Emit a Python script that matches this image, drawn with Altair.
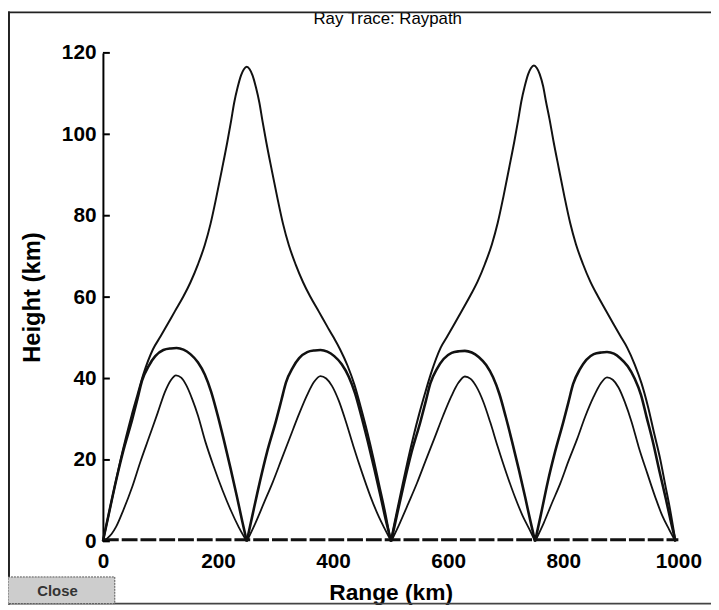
import altair as alt
import pandas as pd

# ---------------- data ----------------
# High-angle ray (peaks ~116.6 km)
high_h1_x = [0, 10, 20, 30, 40, 50, 60, 70, 87, 100, 111, 125, 140, 152, 165, 177, 187, 197, 207, 216,
             223, 228, 234, 240, 245, 250, 255, 260, 266, 272, 277, 284, 293, 303, 313, 323, 335, 348, 360, 375,
             389, 400, 412, 425, 437, 448, 460, 470, 480, 490, 500]
high_h1_y = [0, 6.6, 13.2, 19.6, 25.5, 31, 36, 40.9, 47.2, 50.3, 53, 56.5, 60.2, 63.6, 68, 72.8, 78, 84.5, 91.5, 98,
             103.5, 107.7, 111.5, 114.5, 116, 116.6, 116, 114.5, 111.5, 107.7, 103.5, 98, 91.5, 84.5, 78, 72.8, 68, 63.6, 60.2, 56.5,
             53, 50.3, 47.2, 43.2, 38.5, 33, 26.5, 20.5, 14, 7.5, 0]
high_h2_x = [500, 510, 520, 530, 540, 550, 560, 570, 587, 599, 610, 624, 639, 651, 664, 676, 686, 696, 706, 715,
             722, 727, 733, 739, 744, 749, 754, 759, 765, 770, 776, 783, 792, 802, 812, 822, 834, 847, 859, 874,
             888, 899, 911, 924, 936, 947, 958, 968, 977, 986, 995]
high_h2_y = [0, 6.8, 13.5, 20, 26, 31.5, 36.5, 41.2, 47.6, 50.5, 53.2, 56.7, 60.5, 63.8, 68.2, 73, 78.2, 84.7, 91.8, 98.3,
             103.8, 108, 111.8, 114.8, 116.3, 116.9, 116.3, 114.8, 111.8, 108, 103.8, 98.3, 91.8, 84.7, 78.2, 73, 68.2, 63.8, 60.5, 56.7,
             53.2, 50.5, 47.6, 43.5, 38.8, 33.2, 26.5, 20.5, 14, 7.5, 0]

# Ray with ~47 km apex
mid_h1_x = [0, 10, 23, 35, 51, 60, 68, 80, 91, 105, 118, 128, 140, 152, 165, 177, 188, 199, 210, 222, 233, 242, 250]
mid_h1_y = [0, 6.6, 15, 22, 30, 35, 39.5, 43.2, 45.5, 47, 47.4, 47.5, 47.1, 46, 44, 41, 36.8, 31.2, 25, 17.8, 10.9, 5, 0]
mid_h2_x = [250, 260, 273, 285, 301, 310, 318, 330, 341, 355, 368, 378, 390, 402, 415, 427, 438, 449, 460, 472, 483, 492, 501]
mid_h2_y = [0, 6.5, 14.8, 21.8, 29.7, 34.6, 39, 42.7, 45, 46.5, 46.9, 47, 46.6, 45.5, 43.5, 40.5, 36.4, 30.8, 24.7, 17.6, 10.8, 5, 0]
mid_h3_x = [501, 511, 524, 536, 552, 561, 569, 581, 592, 606, 619, 629, 641, 653, 666, 678, 689, 700, 711, 723, 734, 743, 751]
mid_h3_y = [0, 6.5, 14.7, 21.7, 29.5, 34.4, 38.8, 42.5, 44.8, 46.3, 46.7, 46.8, 46.4, 45.3, 43.3, 40.3, 36.2, 30.6, 24.5, 17.5, 10.7, 4.9, 0]
mid_h4_x = [751, 761, 773, 785, 800, 809, 817, 829, 840, 853, 866, 876, 888, 899, 912, 924, 935, 945, 956, 967, 978, 987, 995]
mid_h4_y = [0, 6.5, 14.6, 21.6, 29.3, 34.2, 38.6, 42.3, 44.6, 46, 46.4, 46.5, 46.1, 45, 43, 40, 36, 30.4, 24.3, 17.3, 10.6, 4.8, 0]

# Ray with ~41 km apex
low_h1_x = [0, 8, 15, 23, 35, 51, 65, 80, 95, 108, 118, 127, 136, 145, 155, 165, 178, 193, 208, 222, 236, 250]
low_h1_y = [0, 0.8, 1.8, 3.6, 7.5, 13.4, 19.5, 25.5, 31.5, 36.8, 39.6, 40.8, 40.2, 38.3, 35, 31, 24.5, 18.2, 12.5, 7.7, 3.5, 0]
low_h2_x = [250, 265, 280, 295, 310, 325, 340, 355, 367, 378, 388, 398, 410, 422, 435, 450, 465, 478, 490, 501]
low_h2_y = [0, 4.5, 9.5, 14.5, 20, 25.5, 31, 36, 39.2, 40.6, 40, 38.2, 34.5, 29.5, 23.5, 17, 11, 6.5, 3, 0]
low_h3_x = [501, 516, 531, 546, 561, 576, 591, 606, 618, 629, 639, 649, 661, 673, 686, 701, 716, 729, 741, 751]
low_h3_y = [0, 4.5, 9.4, 14.4, 19.9, 25.3, 30.8, 35.8, 39, 40.5, 39.9, 38, 34.3, 29.3, 23.3, 16.8, 10.9, 6.4, 3, 0]
low_h4_x = [751, 766, 780, 795, 809, 824, 838, 853, 865, 876, 886, 896, 907, 919, 931, 946, 960, 972, 984, 995]
low_h4_y = [0, 4.5, 9.3, 14.3, 19.7, 25.1, 30.6, 35.6, 38.8, 40.3, 39.7, 37.8, 34.2, 29.2, 23.2, 16.7, 10.8, 6.3, 2.9, 0]

# Ground-hugging ray
ground_x = [0, 1000]
ground_y = [0.4, 0.4]

x_ticks = [0, 200, 400, 600, 800, 1000]
y_ticks = [0, 20, 40, 60, 80, 100, 120]

title_text = "Ray Trace: Raypath"
button_text = "Close"

# ---------------- table ----------------
rows = []
def add(ray, hop, xs, ys):
    for i, (a, b) in enumerate(zip(xs, ys)):
        rows.append({"ray": ray, "hop": hop, "i": i, "range": a, "height": b})

add("high", 1, high_h1_x, high_h1_y)
add("high", 2, high_h2_x, high_h2_y)
add("mid", 1, mid_h1_x, mid_h1_y)
add("mid", 2, mid_h2_x, mid_h2_y)
add("mid", 3, mid_h3_x, mid_h3_y)
add("mid", 4, mid_h4_x, mid_h4_y)
add("low", 1, low_h1_x, low_h1_y)
add("low", 2, low_h2_x, low_h2_y)
add("low", 3, low_h3_x, low_h3_y)
add("low", 4, low_h4_x, low_h4_y)
add("ground", 1, ground_x, ground_y)
df = pd.DataFrame(rows)

FONT = "Liberation Sans"

xs = alt.Scale(domain=[0, 1000], nice=False, zero=False)
ys = alt.Scale(domain=[0, 120], nice=False, zero=False)

X = alt.X("range:Q", scale=xs, title="Range (km)",
          axis=alt.Axis(values=x_ticks, format="d", domain=False, ticks=False, grid=False,
                        labelFlush=False, labelFont=FONT, labelFontSize=21, labelFontWeight="bold",
                        labelColor="black", labelPadding=9,
                        titleFont=FONT, titleFontSize=23, titleFontWeight="bold", titleColor="black",
                        titlePadding=11))
Y = alt.Y("height:Q", scale=ys, title="Height (km)",
          axis=alt.Axis(values=y_ticks, domain=True, domainColor="black", domainWidth=2,
                        ticks=False, grid=False, labelFont=FONT, labelFontSize=21,
                        labelFontWeight="bold", labelColor="black", labelPadding=7,
                        titleFont=FONT, titleFontSize=24, titleFontWeight="bold", titleColor="black",
                        titlePadding=17))

base = alt.Chart(df)

def ray_layer(name, width, dash=None):
    kw = dict(color="#111111", strokeWidth=width, interpolate="monotone")
    if dash:
        kw["strokeDash"] = dash
    return base.transform_filter(alt.datum.ray == name).mark_line(**kw).encode(
        x=X, y=Y, detail="hop:N", order="i:Q")

ground = ray_layer("ground", 3, [16, 3])
low = ray_layer("low", 1.8)
mid = ray_layer("mid", 2.6)
high = ray_layer("high", 2.0)

ticks = alt.Chart(pd.DataFrame({"v": y_ticks})).mark_rule(color="black", strokeWidth=2).encode(
    y=alt.Y("v:Q", scale=ys), x=alt.value(0), x2=alt.value(7))

# title and window decorations (frame lines as thin filled bars, Close button)
deco = pd.DataFrame({"a": [0]})
title = alt.Chart(deco).mark_text(font=FONT, fontSize=17, color="black", baseline="middle").encode(
    x=alt.value(288), y=alt.value(-34), text=alt.value(title_text))
frame_top = alt.Chart(deco).mark_rect(fill="#222", strokeWidth=0).encode(
    x=alt.value(-96), x2=alt.value(640), y=alt.value(-42), y2=alt.value(-40))
frame_left = alt.Chart(deco).mark_rect(fill="#222", strokeWidth=0).encode(
    x=alt.value(-96), x2=alt.value(-94), y=alt.value(-42), y2=alt.value(558))
frame_bottom = alt.Chart(deco).mark_rect(fill="#444", strokeWidth=0).encode(
    x=alt.value(-96), x2=alt.value(640), y=alt.value(556), y2=alt.value(558))
close_btn = alt.Chart(deco).mark_rect(fill="#cdcdcd", stroke="#555", strokeWidth=1, strokeDash=[2, 1]).encode(
    x=alt.value(-96), x2=alt.value(12), y=alt.value(530), y2=alt.value(557))
close_txt = alt.Chart(deco).mark_text(font=FONT, fontSize=15, fontWeight="bold", color="#333").encode(
    x=alt.value(-46), y=alt.value(544), text=alt.value(button_text))

chart = alt.layer(ground, low, mid, high, ticks, title,
                  frame_top, frame_left, frame_bottom, close_btn, close_txt).properties(
    width=582, height=494,
    background="white",
    padding={"left": 96, "top": 42, "right": 33, "bottom": 64},
    autosize=alt.AutoSizeParams(type="none"),
).configure_view(strokeWidth=0, stroke="transparent")

chart.save("out.html", embed_options={"renderer": "svg", "actions": False})
